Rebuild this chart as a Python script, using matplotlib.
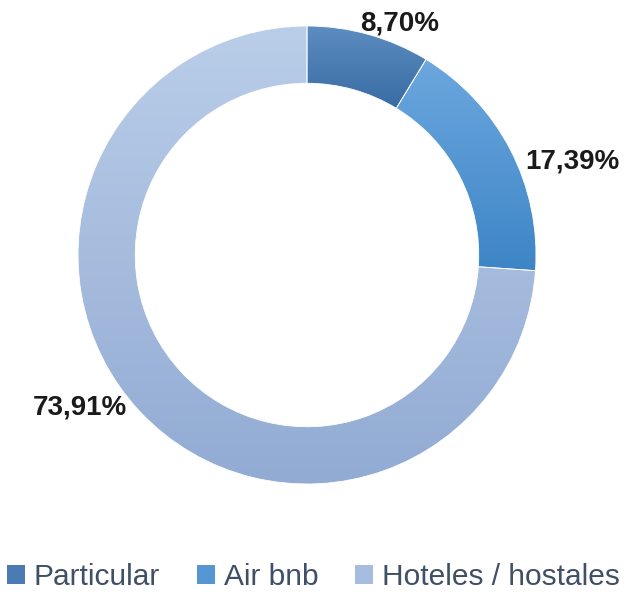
import numpy as np
from matplotlib import pyplot as plt
from matplotlib.colors import LinearSegmentedColormap
from matplotlib.patches import Rectangle

plt.rcParams['font.family'] = ['Liberation Sans', 'DejaVu Sans']

categories = ["Particular", "Air bnb", "Hoteles / hostales"]
values = [8.70, 17.39, 73.91]
labels = ["8,70%", "17,39%", "73,91%"]
# top / bottom colours of each slice gradient
top_colors = ["#5d8dc1", "#6ca7de", "#bacee9"]
bottom_colors = ["#386ca3", "#3d85c6", "#92abd3"]
mid_colors = ["#4a7cb3", "#5596d3", "#a6bde0"]

fig = plt.figure(figsize=(6.27, 5.94), dpi=100)
W, H = 627, 594
cx, cy, R = 307, 255, 229
ax = fig.add_axes([(cx - R) / W, (H - cy - R) / H, 2 * R / W, 2 * R / H])

wedges, _ = ax.pie(values, startangle=90, counterclock=False, radius=1,
                   wedgeprops=dict(width=0.25, edgecolor='white', linewidth=0.6))

grad = np.linspace(1, 0, 256).reshape(-1, 1)
for w, c0, c1 in zip(wedges, top_colors, bottom_colors):
    w.set_facecolor('none')
    ext = w.get_path().get_extents()
    cmap = LinearSegmentedColormap.from_list('g', [c1, c0])
    im = ax.imshow(grad, cmap=cmap, aspect='auto', origin='upper',
                   extent=[ext.x0, ext.x1, ext.y0, ext.y1], zorder=0)
    im.set_clip_path(w)

ax.set_xlim(-1, 1)
ax.set_ylim(-1, 1)
ax.set_aspect('equal')
ax.axis('off')

label_pos = [(0.406, 1.01), (1.157, 0.41), (-0.991, -0.665)]
for (x, y), t in zip(label_pos, labels):
    ax.text(x, y, t, ha='center', va='center', fontsize=20, fontweight='bold',
            color='#1a1a1a', clip_on=False)

handles = [Rectangle((0, 0), 1, 1, facecolor=c, edgecolor='none') for c in mid_colors]
fig.legend(handles, categories, loc='center', bbox_to_anchor=(0.5, 17 / H), ncol=3,
           frameon=False, fontsize=21.5, labelcolor='#3f4f65', handlelength=0.6,
           handleheight=0.6, handletextpad=0.28, columnspacing=1.25,
           borderpad=0, borderaxespad=0)

plt.savefig("out.png", dpi=100)
